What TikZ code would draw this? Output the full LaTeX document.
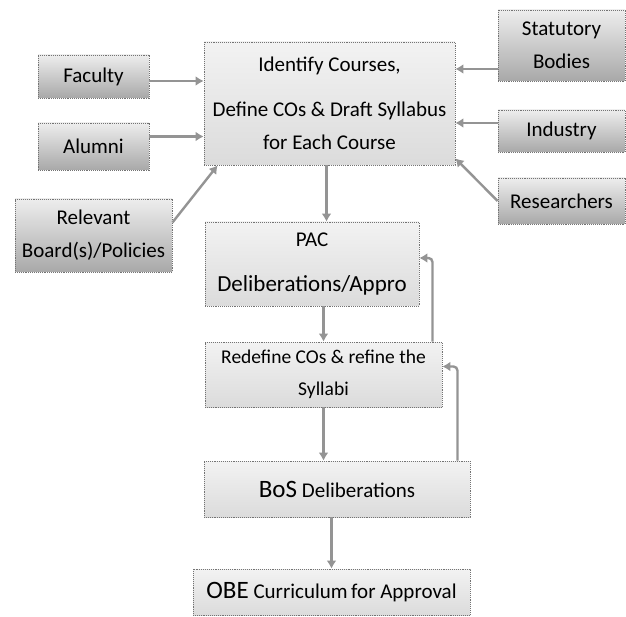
\documentclass[tikz,border=0pt]{standalone}
\usepackage{fontspec}
\setmainfont{Carlito}
\usepackage{tikz}
\usetikzlibrary{arrows.meta,positioning}
\definecolor{BoxTop}{rgb}{0.95,0.95,0.95}
\definecolor{BoxBottom}{rgb}{0.86,0.86,0.86}
\definecolor{SideTop}{rgb}{0.93,0.93,0.93}
\definecolor{SideBottom}{rgb}{0.66,0.66,0.66}
\definecolor{BoxEdge}{rgb}{0.45,0.45,0.45}
\definecolor{FlowLine}{rgb}{0.58,0.58,0.58}
\tikzset{
	stepbox/.style={draw=BoxEdge,densely dotted,line width=0.9pt,top color=BoxTop,bottom color=BoxBottom,align=center,inner sep=0pt,text=black,font=\fontsize{21}{33}\selectfont},
	sidebox/.style={stepbox,top color=SideTop,bottom color=SideBottom},
	flow/.style={draw=FlowLine,solid,line width=2.4pt,-{Latex[length=8pt,width=10pt]}},
	back/.style={flow,rounded corners=4pt}
}

\begin{document}
\begin{tikzpicture}[x=1pt,y=-1pt]
	\useasboundingbox (0,0) rectangle (626,617);
	\node[stepbox,minimum width=251pt,minimum height=123pt] (courses) at (329.5,103.5) {Identify Courses,\\[12pt]Define COs \& Draft Syllabus\\for Each Course};
	\node[sidebox,minimum width=111pt,minimum height=43pt] (faculty) at (93.5,76.5) {Faculty};
	\node[sidebox,minimum width=111pt,minimum height=47pt] (alumni) at (93.5,146.5) {Alumni};
	\node[sidebox,minimum width=157pt,minimum height=73pt] (relevant) at (93.5,235.5) {Relevant\\Board(s)/Policies};
	\node[sidebox,minimum width=127pt,minimum height=71pt] (statutory) at (561.5,45.5) {Statutory\\Bodies};
	\node[sidebox,minimum width=127pt,minimum height=42pt] (industry) at (561.5,131) {Industry};
	\node[sidebox,minimum width=127pt,minimum height=46pt] (researchers) at (561.5,201) {Researchers};
	\node[stepbox,minimum width=214pt,minimum height=84pt] (pac) at (312,264) {PAC\\[12pt]{\fontsize{23}{28}\selectfont Deliberations/Appro}};
	\node[stepbox,minimum width=237pt,minimum height=65pt,font=\fontsize{19.5}{32}\selectfont] (redefine) at (323.5,374.5) {Redefine COs \& refine the\\Syllabi};
	\node[stepbox,minimum width=266pt,minimum height=56pt] (bos) at (337,489) {{\fontsize{25}{30}\selectfont BoS} Deliberations};
	\node[stepbox,minimum width=277pt,minimum height=46pt] (obe) at (331.5,592) {{\fontsize{25}{30}\selectfont OBE} Curriculum\,for Approval};
	\draw[flow] ([yshift=-4.5pt]faculty.east) coordinate (fa) -- (fa -| courses.west);
	\draw[flow] ([yshift=10pt]alumni.east) coordinate (al) -- (al -| courses.west);
	\draw[flow] ([yshift=13pt]relevant.east) -- ([xshift=14pt]courses.south west);
	\draw[flow] ([yshift=-23.5pt]statutory.west) coordinate (st) -- (st -| courses.east);
	\draw[flow] ([yshift=8pt]industry.west) coordinate (in) -- (in -| courses.east);
	\draw[flow] (researchers.west) -- ([yshift=7pt]courses.south east);
	\draw[flow] ([xshift=-3pt]courses.south) coordinate (cs) -- (cs |- pac.north);
	\draw[flow] (pac.south -| redefine.north) -- (redefine.north);
	\draw[flow] (redefine.south) -- (redefine.south |- bos.north);
	\draw[flow] (obe.north |- bos.south) -- (obe.north);
	\draw[back] ([xshift=-10pt]redefine.north east) |- ([yshift=6pt]pac.east);
	\draw[back] ([xshift=-13pt]bos.north east) |- ([yshift=8pt]redefine.east);
\end{tikzpicture}
\end{document}
